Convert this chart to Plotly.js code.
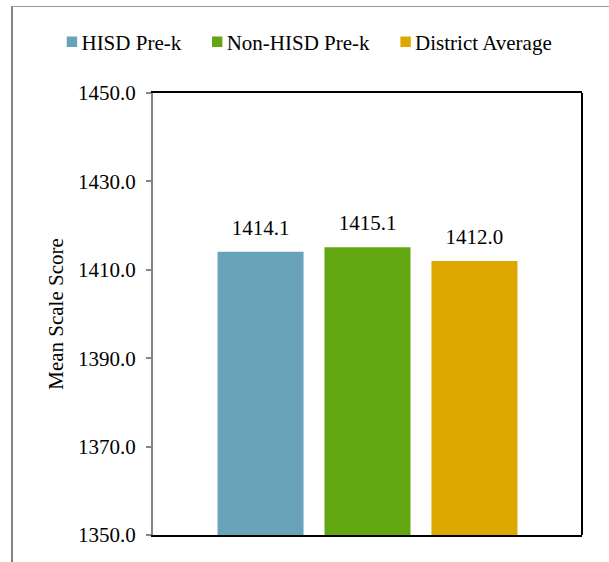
<!DOCTYPE html>
<html>
<head>
<meta charset="utf-8">
<script src="https://cdn.plot.ly/plotly-3.0.1.min.js"></script>
<style>
  html, body { margin: 0; padding: 0; background: #fff; }
  #wrap { position: relative; width: 609px; height: 562px; overflow: hidden; }
  #chart { position: absolute; left: 0; top: 0; width: 609px; height: 562px; }
  #frame {
    position: absolute; left: 11px; top: 6px; width: 800px; height: 800px;
    border-left: 2px solid #858585; border-top: 1px solid #9a9a9a;
    pointer-events: none;
  }
</style>
</head>
<body>
<div id="wrap">
  <div id="chart"></div>
  <div id="frame"></div>
</div>
<script>
// Mean scale score by pre-k group
const groups = ['HISD Pre-k', 'Non-HISD Pre-k', 'District Average'];
const scores = [1414.1, 1415.1, 1412.0];
const colors = ['#68A3BA', '#62A711', '#DDA900'];
const category = ['Mean Scale Score'];

const FONT = 'Liberation Serif';

const traces = groups.map((name, i) => ({
  type: 'bar',
  name: name,
  x: category,
  y: [scores[i]],
  marker: { color: colors[i] },
  text: [scores[i].toFixed(1)],
  textposition: 'outside',
  textfont: { family: FONT, size: 21, color: '#000' },
  cliponaxis: false,
  hoverinfo: 'skip'
}));

const layout = {
  width: 609,
  height: 562,
  margin: { l: 153, r: 27, t: 93, b: 27 },
  paper_bgcolor: 'rgba(0,0,0,0)',
  plot_bgcolor: '#fff',
  font: { family: FONT, size: 21, color: '#000' },
  barmode: 'group',
  bargap: 0.252,
  bargroupgap: 0.196,
  showlegend: true,
  legend: {
    orientation: 'h',
    x: -0.26, xanchor: 'left',
    y: 1.115, yanchor: 'middle',
    font: { family: FONT, size: 21, color: '#000' },
    bgcolor: 'rgba(0,0,0,0)',
    traceorder: 'normal'
  },
  xaxis: {
    type: 'category',
    showticklabels: false,
    ticks: '',
    showgrid: false,
    zeroline: false,
    showline: true,
    linecolor: '#000',
    linewidth: 2,
    mirror: true,
    fixedrange: true
  },
  yaxis: {
    range: [1350, 1450],
    dtick: 20,
    tick0: 1350,
    tickformat: '.1f',
    ticks: 'outside',
    ticklen: 5,
    tickwidth: 2,
    tickcolor: '#868686',
    ticklabelstandoff: 6,
    showgrid: false,
    zeroline: false,
    showline: true,
    linecolor: '#868686',
    linewidth: 2,
    tickfont: { family: FONT, size: 21, color: '#000' },
    title: { text: 'Mean Scale Score', font: { family: FONT, size: 21, color: '#000' }, standoff: 9 },
    fixedrange: true
  },
  shapes: [
    // right edge of the plot frame
    { type: 'line', xref: 'paper', yref: 'paper', x0: 1, x1: 1, y0: 0, y1: 1,
      line: { color: '#000', width: 2 } }
  ]
};

Plotly.newPlot('chart', traces, layout, { displayModeBar: false, staticPlot: true }).then(gd => {
  // lift the value labels a little higher above the bars
  gd.querySelectorAll('.bartext').forEach(t => {
    const tr = t.getAttribute('transform') || '';
    t.setAttribute('transform', 'translate(0,-9) ' + tr);
  });
  // smaller legend swatches sitting close to their labels
  gd.querySelectorAll('.legend .legendpoints path').forEach(p => {
    p.setAttribute('d', 'M5.2,5.2H-5.2V-5.2H5.2Z');
    const tr = p.getAttribute('transform') || '';
    p.setAttribute('transform', 'translate(10.5,0) ' + tr);
  });
});
</script>
</body>
</html>
